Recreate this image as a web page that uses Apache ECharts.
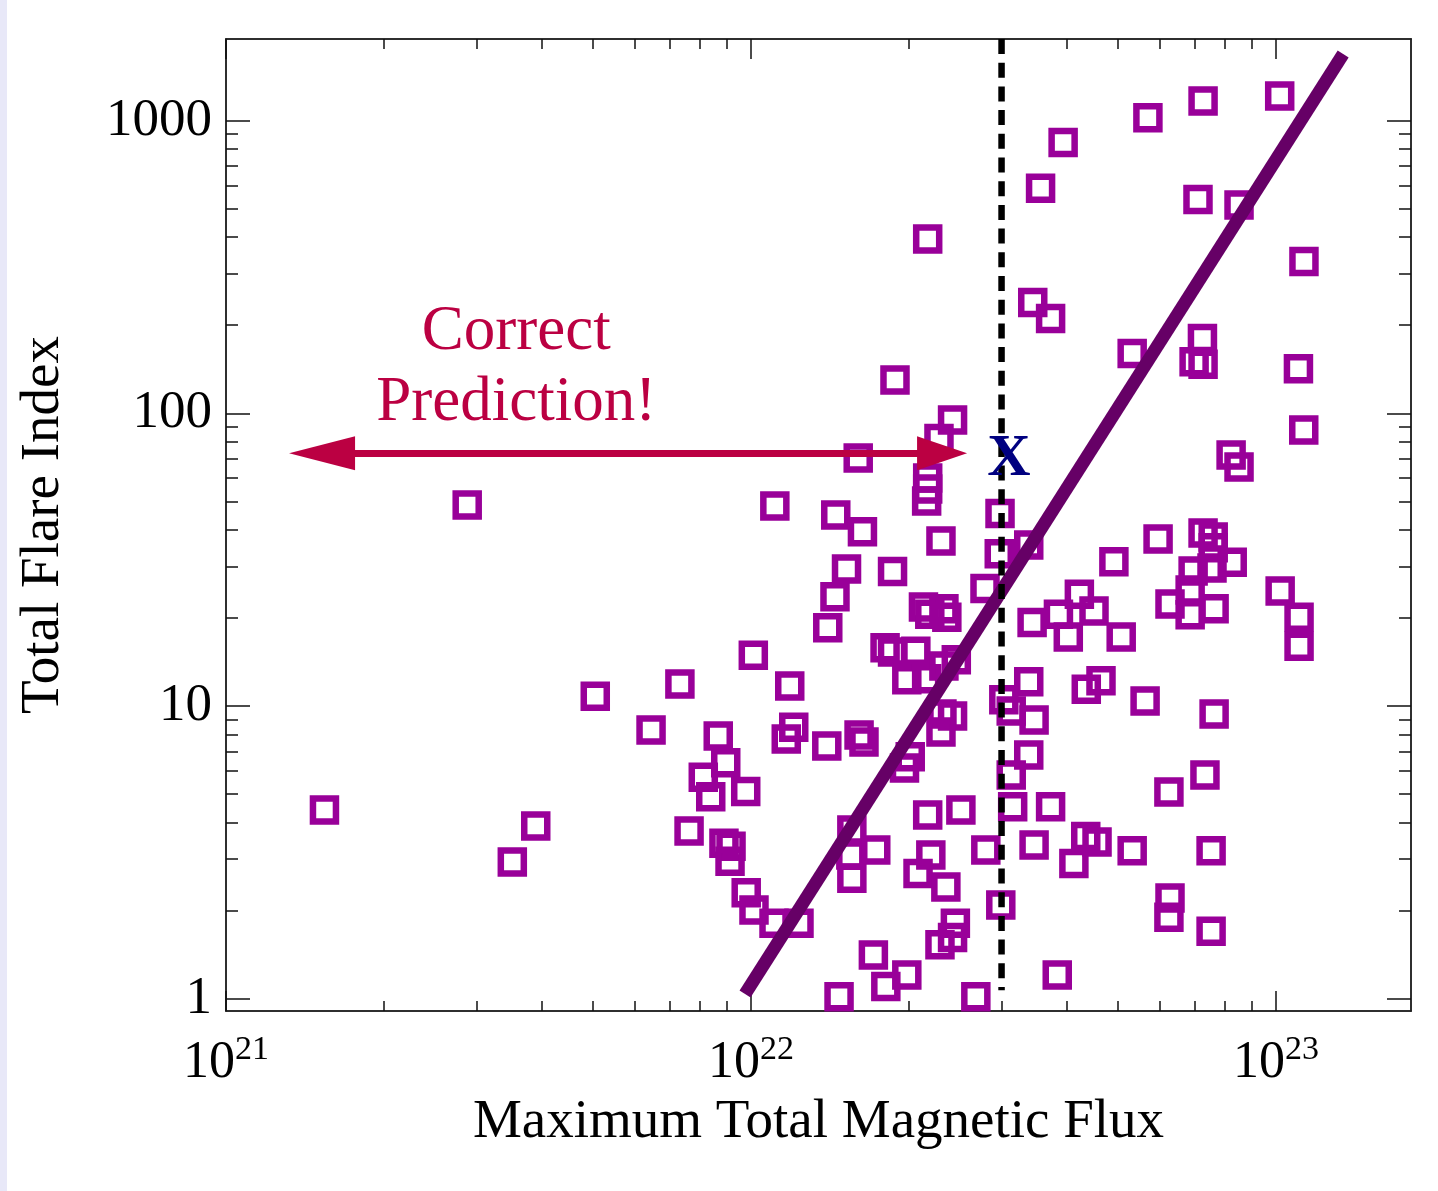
<!DOCTYPE html>
<html>
<head>
<meta charset="utf-8">
<title>Total Flare Index vs Maximum Total Magnetic Flux</title>
<script src="https://cdn.jsdelivr.net/npm/echarts@6/dist/echarts.min.js"></script>
<style>
  html, body { margin: 0; padding: 0; background: #ffffff; }
  #edge { position: absolute; left: 0; top: 0; width: 7px; height: 1191px; background: #e8e8f8; }
  #chart { position: absolute; left: 0; top: 0; width: 1438px; height: 1191px; }
</style>
</head>
<body>
<div id="chart"></div>
<div id="edge"></div>
<script>
// Active regions: maximum total magnetic flux (Mx) and total flare index
const fluxValues = [
  1.54e21, 2.88e21, 3.51e21, 3.89e21, 5.05e21, 6.45e21, 7.32e21, 7.62e21, 1.01e22, 1.185e22,
  1.52e22, 1.445e22, 1.40e22, 1.11e22, 1.45e22, 1.63e22, 1.60e22, 1.88e22, 1.86e22, 8.66e21,
  8.95e21, 8.11e21, 8.38e21, 9.77e21, 8.88e21, 9.16e21, 9.12e21, 9.79e21, 1.013e22, 1.106e22,
  1.234e22, 1.556e22, 1.549e22, 1.728e22, 1.556e22, 1.71e22, 1.806e22, 1.471e22, 1.167e22, 1.206e22,
  1.394e22, 1.606e22, 1.641e22, 2.30e22, 2.97e22, 3.38e22, 2.79e22, 2.13e22, 2.19e22, 2.33e22,
  2.36e22, 3.43e22, 3.85e22, 4.02e22, 4.22e22, 4.50e22, 1.80e22, 1.86e22, 2.06e22, 1.98e22,
  2.16e22, 2.33e22, 2.46e22, 2.31e22, 2.42e22, 2.30e22, 2.01e22, 1.96e22, 2.17e22, 2.51e22,
  2.20e22, 2.08e22, 2.35e22, 2.80e22, 2.99e22, 2.45e22, 2.42e22, 2.29e22, 1.98e22, 2.68e22,
  3.83e22, 3.38e22, 3.03e22, 3.13e22, 3.46e22, 3.38e22, 3.13e22, 3.15e22, 3.72e22, 3.46e22,
  4.12e22, 4.34e22, 4.56e22, 4.35e22, 4.64e22, 5.96e22, 4.91e22, 7.26e22, 7.59e22, 7.59e22,
  6.95e22, 7.55e22, 8.25e22, 6.86e22, 6.28e22, 6.86e22, 7.62e22, 1.018e23, 1.106e23, 1.106e23,
  5.07e22, 5.63e22, 7.62e22, 7.32e22, 6.25e22, 5.32e22, 7.52e22, 6.28e22, 6.25e22, 7.52e22,
  5.70e22, 7.26e22, 1.016e23, 7.10e22, 8.50e22, 1.130e23, 5.32e22, 7.24e22, 6.98e22, 7.26e22,
  1.103e23, 1.129e23, 8.21e22, 8.50e22, 3.93e22, 3.56e22, 2.17e22, 3.44e22, 3.72e22, 2.42e22,
  2.28e22, 2.17e22, 2.17e22, 2.16e22, 2.98e22
];
const flareValues = [
  4.41, 48.6, 2.93, 3.89, 10.8, 8.28, 11.9, 3.74, 14.9, 11.7,
  29.4, 23.6, 18.5, 48.2, 44.9, 39.4, 70.4, 130, 28.8, 7.90,
  6.40, 5.71, 4.90, 5.10, 3.40, 3.32, 2.95, 2.30, 2.01, 1.81,
  1.81, 3.77, 3.10, 3.22, 2.58, 1.41, 1.10, 1.016, 7.72, 8.46,
  7.30, 7.96, 7.53, 36.6, 33.1, 35.5, 25.2, 21.8, 20.6, 21.5,
  20.1, 19.3, 20.6, 17.2, 24.1, 21.1, 15.8, 15.3, 15.4, 12.3,
  12.4, 13.7, 14.4, 9.39, 9.24, 8.15, 6.71, 6.14, 4.24, 4.41,
  3.10, 2.68, 2.41, 3.22, 2.09, 1.81, 1.62, 1.53, 1.205, 1.016,
  1.205, 12.1, 10.5, 9.61, 8.96, 6.80, 5.81, 4.53, 4.53, 3.35,
  2.90, 3.58, 3.43, 11.4, 12.2, 37.2, 31.1, 39.0, 37.8, 34.7,
  28.9, 29.6, 31.0, 24.9, 22.3, 20.5, 21.5, 24.7, 20.1, 16.0,
  17.2, 10.4, 9.39, 5.81, 5.08, 3.20, 3.20, 2.21, 1.90, 1.70,
  1023, 1167, 1213, 538, 515, 330, 160, 180, 150, 147,
  142, 87.7, 72.0, 65.5, 841, 587, 394, 239, 211, 94.9,
  82.1, 60.1, 55.1, 50.2, 45.5
];

// Power-law fit through the sample (end points of the drawn segment)
const fitFlux = [9.74e21, 1.342e23];
const fitFlare = [1.038, 1689];

// Flux threshold marked by the dashed line
const thresholdFlux = 3e22;
const thresholdSpan = [1900, 1.07];

// "Correct Prediction!" arrow (centres of the two heads) and the region marked X
const arrowFlux = [1.524e21, 2.311e22];
const arrowFlare = 73.0;
const markedRegion = [3.10e22, 69.3];
const noteAnchor = [3.57e21, 143];

// Axis ranges and ticks
const xRange = [1e21, 1.807e23];
const yRange = [0.908, 1900];
const xMajorTicks = [1e21, 1e22, 1e23];
const yMajorTicks = [1, 10, 100, 1000];
const xMinorTicks = [];
[1e21, 1e22, 1e23].forEach(d => { for (let k = 2; k <= 9; k++) xMinorTicks.push(k * d); });
const yMinorTicks = [];
[1, 10, 100, 1000].forEach(d => { for (let k = 2; k <= 9; k++) yMinorTicks.push(k * d); });

const SERIF = '"Liberation Serif", "DejaVu Serif", serif';
const CRIMSON = '#bb0042';
const MARKER = '#990099';
const FIT = '#660066';

const points = fluxValues.map((f, i) => [f, flareValues[i]]);

function xAxisOf(gridIndex, position, ticks, len, labels) {
  return {
    type: 'log', logBase: 10, gridIndex: gridIndex, position: position,
    min: xRange[0], max: xRange[1],
    axisLine: { show: true, onZero: false, lineStyle: { color: '#222', width: 1.5 } },
    axisTick: { show: true, inside: true, length: len, customValues: ticks,
                lineStyle: { color: '#111', width: 1.5 } },
    minorTick: { show: false },
    splitLine: { show: false },
    axisLabel: labels ? {
      show: true, margin: 22, customValues: xMajorTicks,
      formatter: v => '{b|10}{s|' + Math.round(Math.log10(v)) + '}',
      rich: {
        b: { fontFamily: SERIF, fontSize: 52, color: '#000', lineHeight: 56, verticalAlign: 'bottom' },
        s: { fontFamily: SERIF, fontSize: 34, color: '#000', lineHeight: 56, verticalAlign: 'top' }
      }
    } : { show: false },
    name: labels ? 'Maximum Total Magnetic Flux' : '',
    nameLocation: 'middle', nameGap: 84,
    nameTextStyle: { fontFamily: SERIF, fontSize: 55, color: '#000' }
  };
}

function yAxisOf(gridIndex, position, ticks, len, labels) {
  return {
    type: 'log', logBase: 10, gridIndex: gridIndex, position: position,
    min: yRange[0], max: yRange[1],
    axisLine: { show: true, onZero: false, lineStyle: { color: '#222', width: 1.5 } },
    axisTick: { show: true, inside: true, length: len, customValues: ticks,
                lineStyle: { color: '#111', width: 1.5 } },
    minorTick: { show: false },
    splitLine: { show: false },
    axisLabel: labels ? {
      show: true, margin: 14, customValues: yMajorTicks,
      formatter: v => String(Math.round(v)),
      fontFamily: SERIF, fontSize: 53, color: '#000'
    } : { show: false },
    name: labels ? 'Total Flare Index' : '',
    nameLocation: 'middle', nameGap: 155,
    nameTextStyle: { fontFamily: SERIF, fontSize: 55, color: '#000' }
  };
}

const gridBox = { left: 226, top: 39, width: 1185, height: 972, containLabel: false };

const chart = echarts.init(document.getElementById('chart'), null, { renderer: 'canvas' });
chart.setOption({
  animation: false,
  backgroundColor: '#ffffff',
  grid: [Object.assign({}, gridBox), Object.assign({}, gridBox)],
  xAxis: [
    xAxisOf(0, 'bottom', xMajorTicks, 20, true),
    xAxisOf(0, 'top', xMajorTicks, 20, false),
    xAxisOf(1, 'bottom', xMinorTicks, 10, false),
    xAxisOf(1, 'top', xMinorTicks, 10, false)
  ],
  yAxis: [
    yAxisOf(0, 'left', yMajorTicks, 24, true),
    yAxisOf(0, 'right', yMajorTicks, 24, false),
    yAxisOf(1, 'left', yMinorTicks, 12, false),
    yAxisOf(1, 'right', yMinorTicks, 12, false)
  ],
  series: [
    {
      name: 'Active regions', type: 'scatter', xAxisIndex: 0, yAxisIndex: 0,
      data: points, symbol: 'rect', symbolSize: 23, z: 2,
      itemStyle: { color: 'rgba(0,0,0,0)', borderColor: MARKER, borderWidth: 6.5, opacity: 1 },
      emphasis: { disabled: true }, silent: true
    },
    {
      name: 'Fit', type: 'line', xAxisIndex: 0, yAxisIndex: 0, z: 3,
      data: fitFlux.map((f, i) => [f, fitFlare[i]]),
      symbol: 'none', lineStyle: { color: FIT, width: 13, cap: 'butt' },
      emphasis: { disabled: true }, silent: true
    },
    {
      name: 'Threshold', type: 'line', xAxisIndex: 0, yAxisIndex: 0, z: 4,
      data: thresholdSpan.map(v => [thresholdFlux, v]),
      symbol: 'none', lineStyle: { color: '#000', width: 6.5, type: [15, 8.7], cap: 'butt' },
      emphasis: { disabled: true }, silent: true
    },
    {
      name: 'Prediction', type: 'line', xAxisIndex: 0, yAxisIndex: 0, z: 5,
      data: [], symbol: 'none',
      markLine: {
        silent: true, animation: false,
        symbol: ['triangle', 'triangle'],
        lineStyle: { color: CRIMSON, width: 7, type: 'solid', opacity: 1 },
        itemStyle: { color: CRIMSON, opacity: 1 },
        label: { show: false },
        emphasis: { disabled: true },
        data: [[
          { coord: [arrowFlux[0], arrowFlare], symbolSize: [34, 66] },
          { coord: [arrowFlux[1], arrowFlare], symbolSize: [34, 50] }
        ]]
      }
    },
    {
      name: 'Notes', type: 'scatter', xAxisIndex: 0, yAxisIndex: 0, z: 6,
      symbol: 'circle', symbolSize: 1, silent: true,
      itemStyle: { color: 'rgba(0,0,0,0)', opacity: 1 },
      emphasis: { disabled: true },
      data: [
        { value: noteAnchor, label: { show: true, position: 'inside', formatter: 'Correct\nPrediction!',
          fontFamily: SERIF, fontSize: 63, lineHeight: 71, color: CRIMSON, opacity: 1, align: 'center' } },
        { value: markedRegion, label: { show: true, position: 'inside', formatter: 'X',
          fontFamily: SERIF, fontSize: 60, color: '#000080', opacity: 1, fontWeight: 'bold' } }
      ]
    }
  ]
});
</script>
</body>
</html>
